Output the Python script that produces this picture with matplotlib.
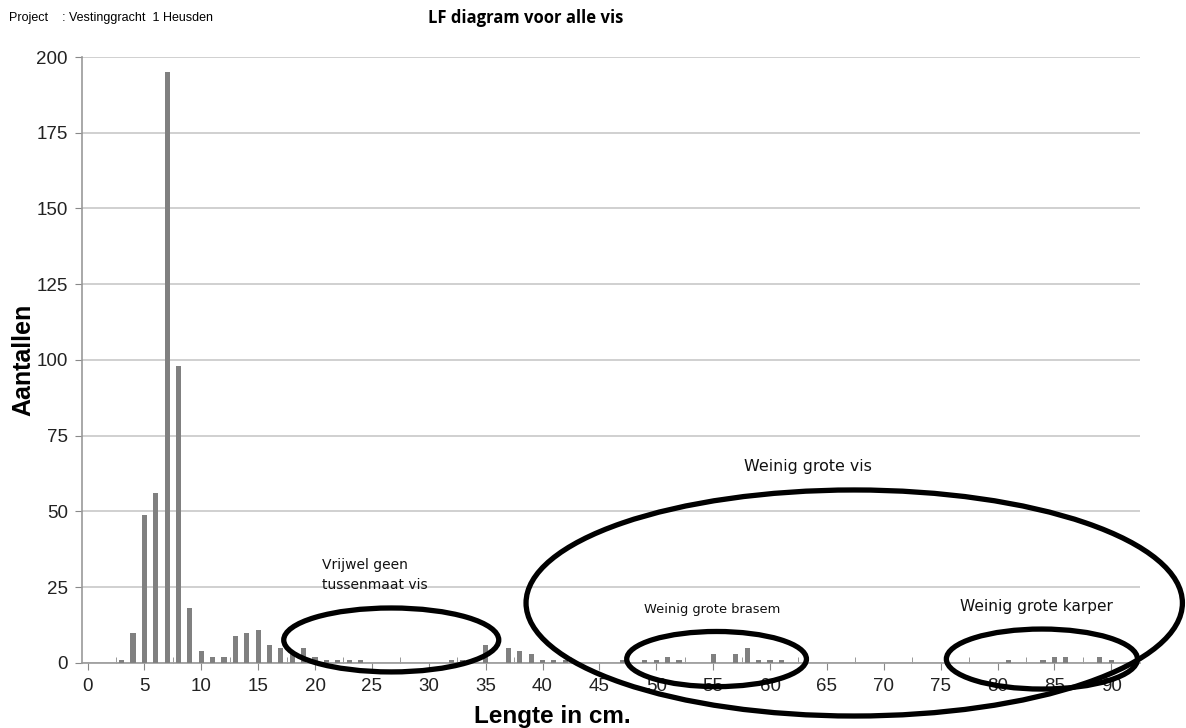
import matplotlib
matplotlib.use("Agg")
import matplotlib.pyplot as plt
from matplotlib.patches import Ellipse

# lengte (cm) en aantallen
lengths = [3, 4, 5, 6, 7, 8, 9, 10, 11, 12, 13, 14, 15, 16, 17, 18, 19, 20,
           21, 22, 23, 24, 32, 33, 35, 37, 38, 39, 40, 41, 42, 47, 49, 50,
           51, 52, 55, 57, 58, 59, 60, 61, 81, 84, 85, 86, 89, 90]
counts = [1, 10, 49, 56, 195, 98, 18, 4, 2, 2, 9, 10, 11, 6, 5, 3, 5, 2,
          1, 1, 1, 1, 1, 1, 6, 5, 4, 3, 1, 1, 1, 1, 1, 1,
          2, 1, 3, 3, 5, 1, 1, 1, 1, 1, 2, 2, 2, 1]

xticks = list(range(0, 95, 5))
yticks = list(range(0, 225, 25))

# annotaties: (tekst, x, y, uitlijning)
notes = [
    ("Vrijwel geen\ntussenmaat vis", 20.6, 29.0, "left"),
    ("Weinig grote vis", 63.3, 65.0, "center"),
    ("Weinig grote brasem", 54.9, 17.5, "center"),
    ("Weinig grote karper", 83.4, 18.5, "center"),
]
note_sizes = [10, 11.4, 9.4, 11.1]
# ellipsen: (x, y, breedte, hoogte)
rings = [
    (26.7, 7.6, 18.9, 21.1),
    (67.4, 19.8, 57.7, 74.6),
    (55.3, 1.3, 15.8, 18.2),
    (83.9, 1.3, 16.8, 19.8),
]

plt.rcParams["font.family"] = ["Liberation Sans", "DejaVu Sans"]

fig = plt.figure(figsize=(11.86, 7.28), dpi=100)
ax = fig.add_axes([0.069, 0.0893, 0.892, 0.8324])

ax.bar(lengths, counts, width=0.45, color="#808080", zorder=3)

ax.set_xlim(-0.5, 92.5)
ax.set_ylim(0, 200)
ax.set_xticks(xticks)
ax.set_xticks([x + 2.5 for x in xticks[:-1]], minor=True)
ax.set_yticks(yticks)
ax.tick_params(axis="x", which="major", direction="out", length=5,
               color="#888888", labelsize=13.5, labelcolor="#222222", pad=6)
ax.tick_params(axis="x", which="minor", direction="in", length=4,
               color="#888888")
ax.tick_params(axis="y", direction="out", length=5, color="#888888",
               labelsize=13.5, labelcolor="#222222", pad=5)

ax.grid(axis="y", color="#c8c8c8", linewidth=1.2, zorder=0)
for side in ["top", "right"]:
    ax.spines[side].set_visible(False)
ax.spines["left"].set_color("#999999")
ax.spines["bottom"].set_color("#999999")
ax.spines["left"].set_linewidth(1.2)
ax.spines["bottom"].set_linewidth(1.2)

ax.set_ylabel("Aantallen", fontsize=18, fontweight="bold", labelpad=1)
fig.text(552 / 1186, 1 - 717 / 728, "Lengte in cm.", fontsize=17.5,
         fontweight="bold", ha="center", va="center")

for (txt, x, y, ha), fs in zip(notes, note_sizes):
    ax.text(x, y, txt, ha=ha, va="center", fontsize=fs,
            family="DejaVu Sans", color="#111111", linespacing=1.55)

for x, y, w, h in rings:
    ax.add_patch(Ellipse((x, y), w, h, fill=False, edgecolor="black",
                         linewidth=3.8, clip_on=False, zorder=5))

fig.text(0.008, 0.975, "Project    : Vestinggracht  1 Heusden",
         fontsize=9, va="center", ha="left")
fig.text(0.443, 0.975, "LF diagram voor alle vis", fontsize=12,
         fontweight="bold", family="Open Sans", va="center", ha="center")

fig.savefig("out.png", dpi=100)
plt.close()
